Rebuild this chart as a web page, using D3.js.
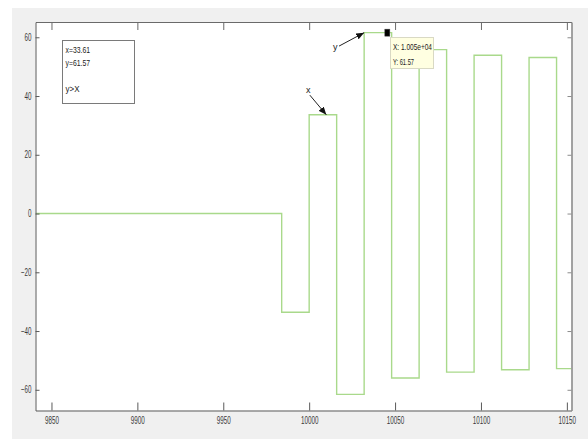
<!DOCTYPE html>
<html>
<head>
<meta charset="utf-8">
<script src="https://cdn.jsdelivr.net/npm/d3@7"></script>
<style>
  body { margin: 0; background: #fff; }
  svg { display: block; }
  text { font-family: "Liberation Sans", Arial, Helvetica, sans-serif; }
</style>
</head>
<body>
<svg id="chart" width="588" height="439"></svg>
<script>
// Square-wave response: switching instants and the level held after each one
const edgeTimes = [9840.7, 9984, 10000, 10016, 10032, 10048, 10064, 10080, 10096, 10112, 10128, 10144, 10152.7];
const levels    = [0, -33.6, 33.61, -61.57, 61.57, -56.0, 55.8, -54.0, 53.9, -53.2, 53.1, -52.8];

const xTicks = [9850, 9900, 9950, 10000, 10050, 10100, 10150];
const yTicks = [-60, -40, -20, 0, 20, 40, 60];
const xLimits = [9840.7, 10152.7];
const yLimits = [-67.05, 65.2];

// data cursor
const tipPoint = { x: 10045.5, y: 61.57 };
const tipLines = ["X: 1.005e+04", "Y: 61.57"];

// text box and arrow annotations
const noteLines = ["x=33.61", "y=61.57", "", "y>X"];
const arrowNotes = [
  { label: "x", from: [10000.4, 40.3], to: [10010, 33.61] },
  { label: "y", from: [10017.4, 57.0], to: [10032, 61.57] }
];

const svg = d3.select("#chart");
const W = 588, H = 439;
const box = { left: 35.5, right: 571.5, top: 22, bottom: 410.5 };

// figure background
svg.append("rect").attr("x", 0).attr("y", 0).attr("width", W).attr("height", H).attr("fill", "#ffffff");
svg.append("rect").attr("x", 12).attr("y", 8).attr("width", W - 12).attr("height", H - 8).attr("fill", "#f0f0f0");
svg.append("rect")
  .attr("x", box.left).attr("y", box.top)
  .attr("width", box.right - box.left).attr("height", box.bottom - box.top)
  .attr("fill", "#ffffff");

const x = d3.scaleLinear().domain(xLimits).range([box.left, box.right]);
const y = d3.scaleLinear().domain(yLimits).range([box.bottom, box.top]);

const defs = svg.append("defs");
defs.append("clipPath").attr("id", "plot-clip")
  .append("rect")
  .attr("x", box.left).attr("y", box.top - 1)
  .attr("width", box.right - box.left).attr("height", box.bottom - box.top + 2);
defs.append("marker")
  .attr("id", "arrowhead")
  .attr("markerUnits", "userSpaceOnUse")
  .attr("markerWidth", 9).attr("markerHeight", 7)
  .attr("refX", 8).attr("refY", 3.25)
  .attr("orient", "auto")
  .append("path").attr("d", "M0,0 L8,3.25 L0,6.5 Z").attr("fill", "#111");

// signal trace
const line = d3.line()
  .x(d => x(d[0]))
  .y(d => y(d[1]))
  .curve(d3.curveStepAfter);
const points = edgeTimes.map((t, i) => [t, levels[Math.min(i, levels.length - 1)]]);
svg.append("path")
  .datum(points)
  .attr("clip-path", "url(#plot-clip)")
  .attr("fill", "none")
  .attr("stroke", "#a9d98b")
  .attr("stroke-width", 1.4)
  .attr("d", line);

// axes with inward ticks
const labelWidth = s => s.replace("-", "").length * 3.5 + (s.startsWith("-") ? 2.5 : 0);
function styleAxis(g, color, withLabels) {
  g.select(".domain").attr("stroke", color).attr("stroke-width", 1);
  g.selectAll(".tick line").attr("stroke", color);
  if (withLabels) {
    g.selectAll(".tick text")
      .attr("fill", "#3a3a3a")
      .attr("font-size", 10)
      .each(function () {
        const t = d3.select(this);
        t.attr("textLength", labelWidth(t.text())).attr("lengthAdjust", "spacingAndGlyphs");
      });
  } else {
    g.selectAll(".tick text").remove();
  }
}

svg.append("g")
  .attr("transform", `translate(0,${box.bottom})`)
  .call(d3.axisBottom(x).tickValues(xTicks).tickFormat(d3.format("d")).tickSizeInner(-8).tickSizeOuter(0).tickPadding(6.5))
  .call(g => styleAxis(g, "#5a5a5a", true));
svg.append("g")
  .attr("transform", `translate(0,${box.top})`)
  .call(d3.axisTop(x).tickValues(xTicks).tickSizeInner(-8).tickSizeOuter(0))
  .call(g => styleAxis(g, "#6a6a6a", false));
svg.append("g")
  .attr("transform", `translate(${box.left},0)`)
  .call(d3.axisLeft(y).tickValues(yTicks).tickFormat(d3.format("d")).tickSizeInner(-4).tickSizeOuter(0).tickPadding(4))
  .call(g => styleAxis(g, "#5a5a5a", true));
svg.append("g")
  .attr("transform", `translate(${box.right},0)`)
  .call(d3.axisRight(y).tickValues(yTicks).tickSizeInner(-4).tickSizeOuter(0))
  .call(g => styleAxis(g, "#8c8c8c", false));
svg.selectAll(".domain").filter((d, i) => i === 3).attr("stroke-width", 1.6);

// text box in the upper-left corner
const note = svg.append("g");
note.append("rect")
  .attr("x", 62.5).attr("y", 40.5).attr("width", 72).attr("height", 63)
  .attr("fill", "#ffffff").attr("stroke", "#7a7a7a").attr("stroke-width", 1);
note.selectAll("text")
  .data(noteLines)
  .join("text")
  .attr("x", 65.5)
  .attr("y", (d, i) => 52.8 + i * 13)
  .attr("font-size", 9)
  .attr("fill", "#222")
  .text(d => d)
  .each(function (d) {
    if (d) d3.select(this).attr("textLength", d === "y>X" ? 14 : d.length * 3.5).attr("lengthAdjust", "spacingAndGlyphs");
  });

// arrow annotations
arrowNotes.forEach(a => {
  svg.append("line")
    .attr("x1", x(a.from[0])).attr("y1", y(a.from[1]))
    .attr("x2", x(a.to[0])).attr("y2", y(a.to[1]))
    .attr("stroke", "#222").attr("stroke-width", 1)
    .attr("marker-end", "url(#arrowhead)");
  svg.append("text")
    .attr("x", x(a.from[0]) - 1.5)
    .attr("y", y(a.from[1]) - (a.label === "x" ? 2 : -4))
    .attr("text-anchor", a.label === "x" ? "middle" : "end")
    .attr("font-size", 9)
    .attr("fill", "#222")
    .text(a.label);
});

// data cursor marker and tip
const tx = x(tipPoint.x), ty = y(tipPoint.y);
svg.append("rect")
  .attr("x", tx - 2.5).attr("y", ty - 3.5).attr("width", 5).attr("height", 7)
  .attr("fill", "#000").attr("stroke", "#444").attr("stroke-width", 0.5);
const tip = svg.append("g");
tip.append("rect")
  .attr("x", 390.5).attr("y", 37.5).attr("width", 43).attr("height", 31)
  .attr("fill", "#ffffe1").attr("stroke", "#d9d9c4").attr("stroke-width", 1);
tip.selectAll("text")
  .data(tipLines)
  .join("text")
  .attr("x", 393)
  .attr("y", (d, i) => 50 + i * 15)
  .attr("font-size", 9.5)
  .attr("fill", "#222")
  .attr("textLength", d => d === tipLines[0] ? 39 : 21)
  .attr("lengthAdjust", "spacingAndGlyphs")
  .text(d => d);
</script>
</body>
</html>
